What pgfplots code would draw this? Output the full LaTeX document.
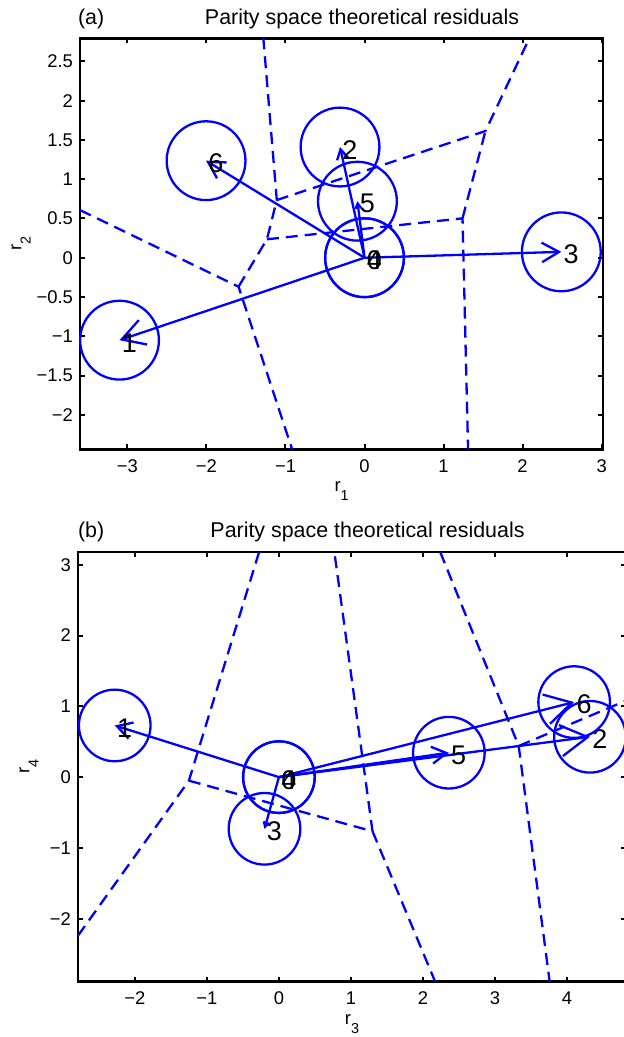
\documentclass[border=0pt]{standalone}
\usepackage{pgfplots}
\usepackage{pgfplotstable}
\pgfplotsset{compat=1.18}
\usepackage{fontspec}
\setmainfont{Liberation Sans}
\usetikzlibrary{arrows.meta}
\definecolor{mblue}{RGB}{0,0,255}

\pgfplotstableread{
x y lab
0 0 0
-3.1 -1.05 1
-0.31 1.41 2
2.49 0.075 3
0 0 4
-0.09 0.72 5
-2.005 1.236 6
}\ptsA

\pgfplotstableread{
x y lab
0 0 0
-2.28 0.73 1
4.32 0.57 2
-0.2 -0.73 3
0 0 4
2.36 0.345 5
4.10 1.06 6
}\ptsB

\pgfplotsset{
  mystyle/.style={
    scale only axis,
    anchor=north west,
    axis line style={black, line width=1.25pt},
    every tick/.style={black, line width=1pt},
    major tick length=2.6pt,
    tick align=inside,
    tick pos=both,
    tick label style={font=\fontsize{9.2}{10}\selectfont, black},
    xticklabel style={yshift=-1.5pt},
    label style={font=\fontsize{9.2}{10}\selectfont},
  },
  dsh/.style={mblue, line width=1.15pt, dash pattern=on 6pt off 3.5pt, no marks},
  arr/.style={mblue, line width=1.15pt, no marks, solid},
  circ/.style={only marks, mark=o, mblue, mark options={solid, line width=1.15pt},
    nodes near coords, point meta=explicit symbolic,
    every node near coord/.append style={anchor=west, inner sep=0pt, xshift=0.6pt, yshift=-1.3pt, text=black, font=\fontsize{13.5}{15}\selectfont}},
}

\begin{document}
\begin{tikzpicture}
\node[anchor=base west, font=\fontsize{10.7}{12}\selectfont] at (35.5pt,-12.25pt) {(a)};
\node[anchor=base, font=\fontsize{10.7}{12}\selectfont] at (181pt,-12.25pt) {Parity space theoretical residuals};
\begin{axis}[mystyle, at={(40pt,-19.15pt)}, width=261.6pt, height=205.5pt,
  xmin=-3.6, xmax=3.02, ymin=-2.44, ymax=2.795,
  xtick={-3,-2,-1,0,1,2,3}, xticklabels={−3,−2,−1,0,1,2,3},
  ytick={-2,-1.5,-1,-0.5,0,0.5,1,1.5,2,2.5}, yticklabels={−2,−1.5,−1,−0.5,0,0.5,1,1.5,2,2.5},
  xlabel={r\raisebox{-4.6pt}{\fontsize{7.2}{8}\selectfont 1}},
  ylabel={r\raisebox{-4.6pt}{\fontsize{7.2}{8}\selectfont 2}},
  xlabel style={at={(axis description cs:0.5,-0.1015)}, anchor=center},
  ylabel style={at={(axis description cs:-0.1128,0.5)}, anchor=center},
]
\addplot[dsh] coordinates {(-3.6,0.607) (-1.594,-0.369) (-0.916,-2.44)};
\addplot[dsh] coordinates {(-1.594,-0.369) (-1.235,0.235) (-1.11,0.735) (-1.28,2.795)};
\addplot[dsh] coordinates {(-1.235,0.235) (1.24,0.502) (1.31,-2.44)};
\addplot[dsh] coordinates {(-1.11,0.735) (1.53,1.614) (2.085,2.795)};
\addplot[dsh] coordinates {(1.24,0.502) (1.53,1.614)};
\addplot[arr, -{Straight Barb[length=11.2pt,width=12.9pt]}] coordinates {(0,0) (-3.1,-1.05)};
\addplot[arr, -{Straight Barb[length=5pt,width=5.7pt]}] coordinates {(0,0) (-0.31,1.41)};
\addplot[arr, -{Straight Barb[length=8.6pt,width=9.8pt]}] coordinates {(0,0) (2.49,0.075)};
\addplot[arr, -{Straight Barb[length=2.5pt,width=2.9pt]}] coordinates {(0,0) (-0.09,0.72)};
\addplot[arr, -{Straight Barb[length=8.1pt,width=9.3pt]}] coordinates {(0,0) (-2.005,1.236)};
\addplot[circ, mark size=19.7pt] table[x=x, y=y, meta=lab] {\ptsA};
\end{axis}

\node[anchor=base west, font=\fontsize{10.7}{12}\selectfont] at (35.5pt,-268.5pt) {(b)};
\node[anchor=base, font=\fontsize{10.7}{12}\selectfont] at (183.75pt,-268.5pt) {Parity space theoretical residuals};
\begin{axis}[mystyle, at={(39pt,-276pt)}, width=274pt, height=214.85pt,
  xmin=-2.79, xmax=4.82, ymin=-2.89, ymax=3.18,
  xtick={-2,-1,0,1,2,3,4}, xticklabels={−2,−1,0,1,2,3,4},
  ytick={-2,-1,0,1,2,3}, yticklabels={−2,−1,0,1,2,3},
  xlabel={r\raisebox{-4.6pt}{\fontsize{7.2}{8}\selectfont 3}},
  ylabel={r\raisebox{-4.6pt}{\fontsize{7.2}{8}\selectfont 4}},
  xlabel style={at={(axis description cs:0.5,-0.0984)}, anchor=center},
  ylabel style={at={(axis description cs:-0.0894,0.5)}, anchor=center},
]
\addplot[dsh] coordinates {(-0.275,3.18) (-1.25,-0.05) (-2.79,-2.24)};
\addplot[dsh] coordinates {(-1.25,-0.05) (1.30,-0.765) (0.77,3.18)};
\addplot[dsh] coordinates {(1.30,-0.765) (2.17,-2.89)};
\addplot[dsh] coordinates {(2.24,3.18) (3.33,0.44) (3.76,-2.89)};
\addplot[dsh] coordinates {(3.33,0.44) (4.82,1.08)};
\addplot[arr, -{Straight Barb[length=7.4pt,width=8.5pt]}] coordinates {(0,0) (-2.28,0.73)};
\addplot[arr, -{Straight Barb[length=13.5pt,width=15.6pt]}] coordinates {(0,0) (4.32,0.57)};
\addplot[arr, -{Straight Barb[length=2.35pt,width=2.7pt]}] coordinates {(0,0) (-0.2,-0.73)};
\addplot[arr, -{Straight Barb[length=7.4pt,width=8.5pt]}] coordinates {(0,0) (2.36,0.345)};
\addplot[arr, -{Straight Barb[length=13.2pt,width=15.1pt]}] coordinates {(0,0) (4.10,1.06)};
\addplot[circ, mark size=17.9pt] table[x=x, y=y, meta=lab] {\ptsB};
\end{axis}
\pgfresetboundingbox
\path[use as bounding box] (0,0) rectangle (312pt,-518.5pt);
\end{tikzpicture}
\end{document}
